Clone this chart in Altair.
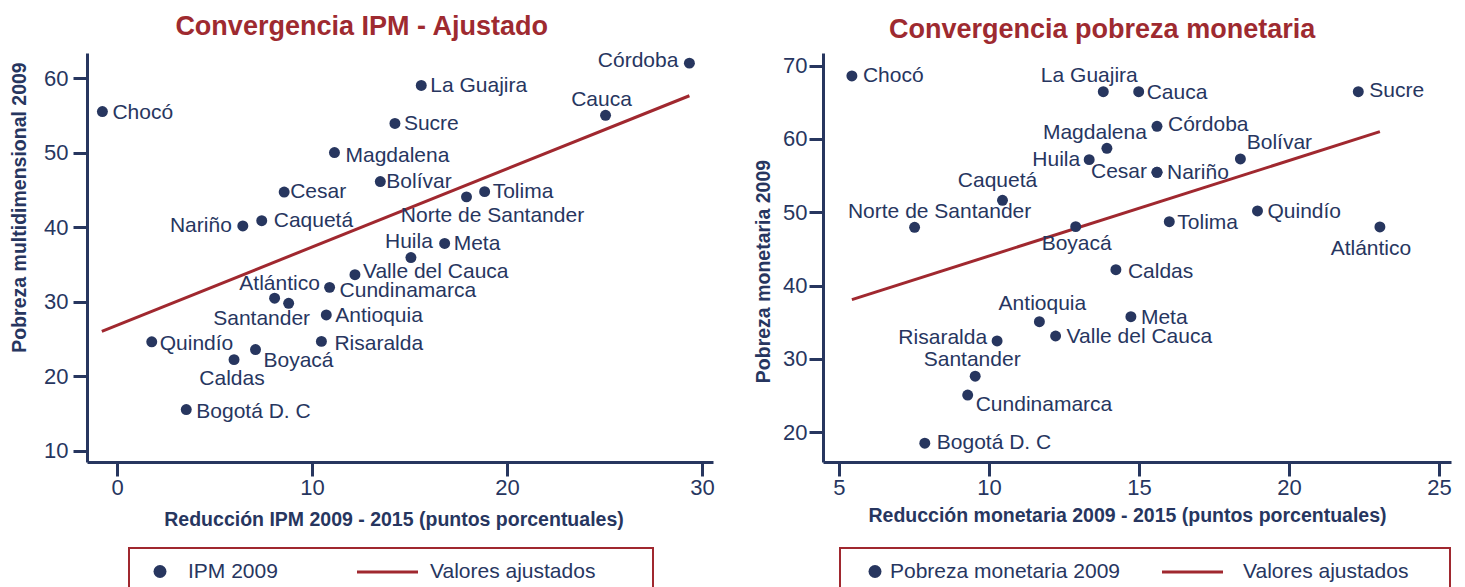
import altair as alt
import pandas as pd

NAVY = "#27365f"
RED = "#a0282f"
TITLE_RED = "#9e2a30"
FONT = "Liberation Sans"
FONT_B = "Liberation Sans"

# ---------------- Left panel: IPM ----------------
ipm_deptos = ["Chocó", "Córdoba", "La Guajira", "Cauca", "Sucre", "Magdalena", "Bolívar",
              "Cesar", "Tolima", "Norte de Santander", "Caquetá", "Nariño", "Meta", "Huila",
              "Valle del Cauca", "Cundinamarca", "Atlántico", "Santander", "Antioquia",
              "Quindío", "Risaralda", "Boyacá", "Caldas", "Bogotá D. C"]
ipm_reduccion = [-0.75, 29.35, 15.6, 25.05, 14.25, 11.15, 13.5, 8.57, 18.85, 17.92, 7.42, 6.45,
                 16.8, 15.07, 12.2, 10.9, 8.08, 8.8, 10.73, 1.78, 10.48, 7.1, 6.0, 3.55]
ipm_2009 = [55.5, 62.0, 59.0, 55.0, 53.9, 50.0, 46.1, 44.7, 44.75, 44.05, 40.85, 40.15,
            37.8, 35.9, 33.6, 31.9, 30.45, 29.76, 28.2, 24.6, 24.65, 23.55, 22.2, 15.5]
ipm_ajuste_x = [-0.78, 29.35]
ipm_ajuste_y = [26.0, 57.62]
ipm_xticks = [0, 10, 20, 30]
ipm_yticks = [10, 20, 30, 40, 50, 60]

# ---------------- Right panel: pobreza monetaria ----------------
mon_deptos = ["Chocó", "La Guajira", "Cauca", "Sucre", "Córdoba", "Magdalena", "Huila",
              "Bolívar", "Cesar", "Nariño", "Caquetá", "Norte de Santander", "Boyacá", "Tolima",
              "Quindío", "Atlántico", "Caldas", "Antioquia", "Meta", "Valle del Cauca",
              "Risaralda", "Santander", "Cundinamarca", "Bogotá D. C"]
mon_reduccion = [5.43, 13.81, 14.99, 22.31, 15.6, 13.93, 13.34, 18.38, 15.6, 15.6, 10.45, 7.52,
                 12.89, 16.01, 18.95, 23.03, 14.23, 11.68, 14.73, 12.22, 10.27, 9.54, 9.29, 7.86]
mon_2009 = [68.6, 66.45, 66.45, 66.45, 61.73, 58.73, 57.18, 57.27, 55.46, 55.46, 51.64, 47.95,
            48.04, 48.72, 50.18, 48.0, 42.17, 35.07, 35.76, 33.12, 32.44, 27.63, 25.07, 18.49]
mon_ajuste_x = [5.43, 23.03]
mon_ajuste_y = [38.08, 61.0]
mon_xticks = [5, 10, 15, 20, 25]
mon_yticks = [20, 30, 40, 50, 60, 70]

# label placement (style only): align, dx, dy
ipm_label_style = {
    "Chocó": ("left", 10, 1), "Córdoba": ("right", -11, -2), "La Guajira": ("left", 9, 1),
    "Cauca": ("center", -4, -15), "Sucre": ("left", 9, 1), "Magdalena": ("left", 11, 3),
    "Bolívar": ("left", 6, 0), "Cesar": ("left", 6, 0), "Tolima": ("left", 8, 0),
    "Norte de Santander": ("center", 26, 19), "Caquetá": ("left", 12, 0),
    "Nariño": ("right", -11, 0), "Meta": ("left", 9, 1), "Huila": ("center", -2, -16),
    "Valle del Cauca": ("left", 8, -3), "Cundinamarca": ("left", 10, 4),
    "Atlántico": ("center", 5, -14), "Santander": ("center", -27, 16),
    "Antioquia": ("left", 9, 1), "Quindío": ("left", 8, 2), "Risaralda": ("left", 13, 3),
    "Boyacá": ("left", 8, 11), "Caldas": ("center", -2, 19), "Bogotá D. C": ("left", 10, 2),
}
mon_label_style = {
    "Chocó": ("left", 11, 0), "La Guajira": ("center", -14, -16), "Cauca": ("left", 8, 1),
    "Sucre": ("left", 11, -1), "Córdoba": ("left", 11, -1), "Magdalena": ("center", -12, -15),
    "Huila": ("right", -9, 0), "Bolívar": ("center", 39, -16), "Cesar": ("right", -10, 0),
    "Nariño": ("left", 10, 1), "Caquetá": ("center", -5, -19),
    "Norte de Santander": ("center", 25, -15), "Boyacá": ("center", 1, 17),
    "Tolima": ("left", 8, 1), "Quindío": ("left", 10, 1), "Atlántico": ("center", -9, 22),
    "Caldas": ("left", 12, 2), "Antioquia": ("center", 3, -18), "Meta": ("left", 10, 1),
    "Valle del Cauca": ("left", 11, 1), "Risaralda": ("right", -10, -3),
    "Santander": ("center", -3, -16), "Cundinamarca": ("left", 8, 10),
    "Bogotá D. C": ("left", 12, 0),
}


def panel(deptos, xs, ys, fx, fy, serie, title, xtitle, ytitle, xdom, ydom, xticks, yticks,
          width, styles, ytitle_x, ytitle_y, xtitle_x, xtitle_y, label_pad,
          circ_lx, circ_loff, line_lx, line_soff, line_loff, right_pad):
    df = pd.DataFrame({"depto": deptos, "x": xs, "y": ys, "serie": serie})
    fit = pd.DataFrame({"x": fx, "y": fy, "serie": "Valores ajustados"})
    xsc = alt.Scale(domain=xdom, nice=False, zero=False)
    ysc = alt.Scale(domain=ydom, nice=False, zero=False)
    X = alt.X("x:Q", scale=xsc, axis=alt.Axis(values=xticks, title=xtitle, titleX=xtitle_x,
                                              titleY=xtitle_y, titleBaseline="middle",
                                              labelFlush=False, labelPadding=1))
    Y = alt.Y("y:Q", scale=ysc, axis=alt.Axis(values=yticks, title=ytitle, titleX=ytitle_x,
                                              titleY=ytitle_y, titleAngle=270,
                                              titleAlign="center", titleBaseline="middle",
                                              labelFlush=False, labelPadding=label_pad))
    line = alt.Chart(fit).mark_line(strokeWidth=3).encode(
        x=X, y=Y,
        color=alt.Color("serie:N",
                        scale=alt.Scale(domain=["Valores ajustados"], range=[RED]),
                        legend=alt.Legend(title=".", titleOrient="right", titleColor="transparent",
                                          titleFontSize=10, titlePadding=right_pad,
                                          orient="none", legendX=line_lx,
                                          legendY=495, symbolType="stroke", symbolSize=3721,
                                          symbolStrokeWidth=3, strokeColor=RED,
                                          padding=13.5, clipHeight=21,
                                          symbolOffset=line_soff, labelOffset=line_loff,
                                          labelLimit=500, labelFont=FONT, labelFontSize=21,
                                          labelColor=NAVY)))
    pts = alt.Chart(df).mark_circle(size=120, opacity=1).encode(
        x=X, y=Y,
        color=alt.Color("serie:N",
                        scale=alt.Scale(domain=[serie], range=[NAVY]),
                        legend=alt.Legend(title=None, orient="none", legendX=circ_lx,
                                          legendY=508, symbolType="circle", symbolSize=169,
                                          padding=0, clipHeight=21, labelOffset=circ_loff,
                                          labelLimit=500, labelFont=FONT, labelFontSize=21,
                                          labelColor=NAVY)))
    groups = {}
    for name, st in styles.items():
        groups.setdefault(st, []).append(name)
    labels = []
    for (al, dx, dy), names in groups.items():
        labels.append(
            alt.Chart(df).transform_filter(alt.FieldOneOfPredicate(field="depto", oneOf=names))
            .mark_text(align=al, baseline="middle", dx=dx, dy=dy, font=FONT, fontSize=21,
                       color=NAVY)
            .encode(x=X, y=Y, text="depto:N"))
    return alt.layer(line, pts, *labels).resolve_scale(color="independent").properties(
        width=width, height=409,
        title=alt.TitleParams(title, font=FONT_B, fontSize=27, fontWeight="bold",
                              color=TITLE_RED, anchor="middle", frame="bounds", offset=9))


left = panel(ipm_deptos, ipm_reduccion, ipm_2009, ipm_ajuste_x, ipm_ajuste_y, "IPM 2009",
             "Convergencia IPM - Ajustado", "Reducción IPM 2009 - 2015 (puntos porcentuales)",
             "Pobreza multidimensional 2009", [-1.54, 30.56], [8.46, 63.36],
             ipm_xticks, ipm_yticks, 626, ipm_label_style,
             -68, 154, 306.5, 57, 5, 62.5, 17.5, 42, 213, 10.5, 41)
right = panel(mon_deptos, mon_reduccion, mon_2009, mon_ajuste_x, mon_ajuste_y,
              "Pobreza monetaria 2009", "Convergencia pobreza monetaria",
              "Reducción monetaria 2009 - 2015 (puntos porcentuales)", "Pobreza monetaria 2009",
              [4.467, 25.4], [15.93, 71.73], mon_xticks, mon_yticks, 628, mon_label_style,
              -60, 218, 304, 53, 2, 41.5, 4.5, 17, 307, 18.5, 25)

legend_cfg = {}
try:
    props = alt.LegendConfig.resolve_references().get("properties", {})
    if "strokeWidth" in props:
        legend_cfg["strokeWidth"] = 2
except Exception:
    pass

chart = (alt.hconcat(left, right, spacing=38)
         .resolve_scale(color="independent")
         .resolve_legend(color="independent")
         .configure_view(stroke=None)
         .configure_axis(domainColor=NAVY, domainWidth=3, tickColor=NAVY, tickWidth=3,
                         tickSize=14, labelColor=NAVY, labelFont=FONT, labelFontSize=22,
                         titleColor=NAVY, titleFont=FONT_B, titleFontSize=19.5,
                         titleFontWeight="bold", grid=False)
         .configure_legend(**legend_cfg)
         .properties(padding={"left": 1, "top": 5, "right": 5, "bottom": 5}))

chart.save("out.html", embed_options={"renderer": "svg", "actions": False})
